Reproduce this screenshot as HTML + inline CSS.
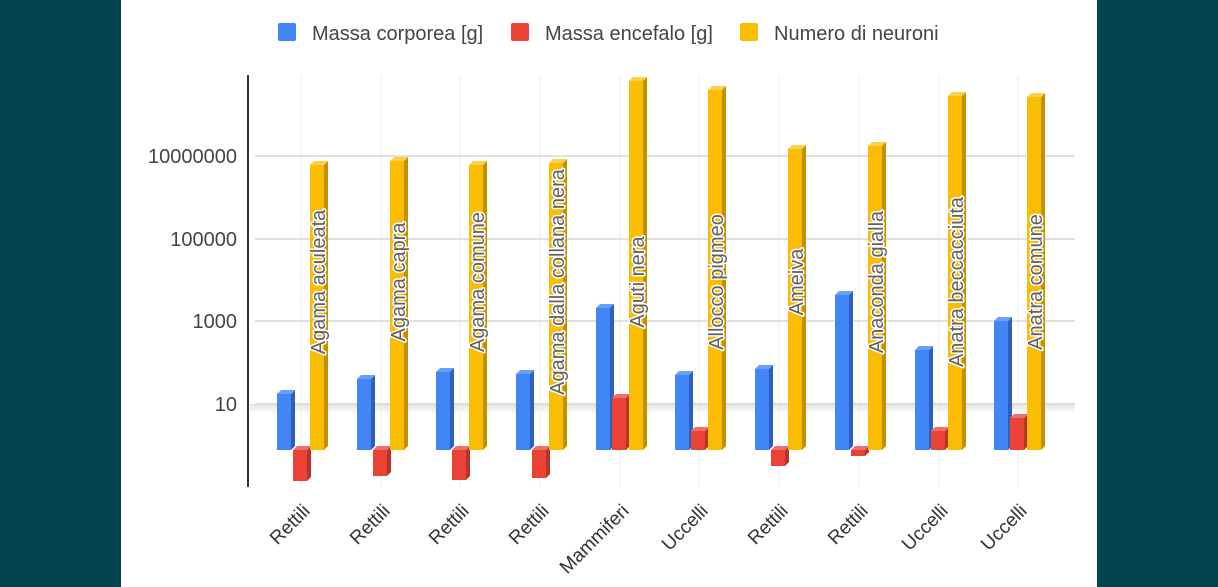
<!DOCTYPE html>
<html>
<head>
<meta charset="utf-8">
<style>
html,body{margin:0;padding:0;background:#03444f;}
body{width:1218px;height:587px;overflow:hidden;}
svg{display:block;}
text{font-family:"Liberation Sans",Arial,sans-serif;}
</style>
</head>
<body>
<svg width="1218" height="587" viewBox="0 0 1218 587" xmlns="http://www.w3.org/2000/svg">
<rect x="0" y="0" width="1218" height="587" fill="#03444f"/>
<rect x="121" y="0" width="976" height="587" fill="#ffffff"/>

<!-- legend -->
<rect x="278" y="23" width="18" height="18" rx="2" fill="#4285f4"/>
<text x="312" y="40" font-size="20" fill="#444">Massa corporea [g]</text>
<rect x="511" y="23" width="18" height="18" rx="2" fill="#ea4335"/>
<text x="545" y="40" font-size="20" fill="#444">Massa encefalo [g]</text>
<rect x="740" y="23" width="18" height="18" rx="2" fill="#fbbc04"/>
<text x="774" y="40" font-size="20" fill="#444">Numero di neuroni</text>

<!-- vertical gridlines -->
<g stroke="#ededed" stroke-width="1">
<line x1="301" y1="75" x2="301" y2="486"/>
<line x1="381" y1="75" x2="381" y2="486"/>
<line x1="460" y1="75" x2="460" y2="486"/>
<line x1="540" y1="75" x2="540" y2="486"/>
<line x1="620" y1="75" x2="620" y2="486"/>
<line x1="699" y1="75" x2="699" y2="486"/>
<line x1="779" y1="75" x2="779" y2="486"/>
<line x1="859" y1="75" x2="859" y2="486"/>
<line x1="939" y1="75" x2="939" y2="486"/>
<line x1="1018" y1="75" x2="1018" y2="486"/>
</g>

<!-- floor band -->
<defs>
<linearGradient id="fl" x1="0" y1="0" x2="0" y2="1">
<stop offset="0" stop-color="#e4e4e4"/>
<stop offset="1" stop-color="#f8f8f8"/>
</linearGradient>
</defs>
<rect x="250" y="404" width="825" height="8" fill="url(#fl)"/>

<!-- horizontal gridlines -->
<g stroke="#d6d6d6" stroke-width="1.5">
<line x1="255" y1="156" x2="1075" y2="156"/>
<line x1="255" y1="239" x2="1075" y2="239"/>
<line x1="255" y1="321" x2="1075" y2="321"/>
<line x1="255" y1="404" x2="1075" y2="404"/>
</g>

<!-- y axis -->
<line x1="248" y1="75" x2="248" y2="487" stroke="#333" stroke-width="2"/>
<g font-size="20" fill="#444" text-anchor="end">
<text x="237" y="163">10000000</text>
<text x="237" y="246">100000</text>
<text x="237" y="328">1000</text>
<text x="237" y="411">10</text>
</g>

<!-- bars -->
<g>
<!-- G1 -->
<rect x="277" y="394" width="14" height="56" fill="#4285f4"/>
<polygon points="291,394 295,390 295,446 291,450" fill="#2d5fbf"/>
<polygon points="277,394 281,390 295,390 291,394" fill="#6a9ff7"/>
<rect x="293" y="450" width="14" height="31" fill="#ea4335"/>
<polygon points="307,450 311,446 311,477 307,481" fill="#b5352a"/>
<polygon points="293,450 297,446 311,446 307,450" fill="#f07066"/>
<rect x="310" y="165" width="14" height="285" fill="#fbbc04"/>
<polygon points="324,165 328,161 328,446 324,450" fill="#c29100"/>
<polygon points="310,165 314,161 328,161 324,165" fill="#fdd04a"/>
<!-- G2 -->
<rect x="357" y="379" width="14" height="71" fill="#4285f4"/>
<polygon points="371,379 375,375 375,446 371,450" fill="#2d5fbf"/>
<polygon points="357,379 361,375 375,375 371,379" fill="#6a9ff7"/>
<rect x="373" y="450" width="14" height="26" fill="#ea4335"/>
<polygon points="387,450 391,446 391,472 387,476" fill="#b5352a"/>
<polygon points="373,450 377,446 391,446 387,450" fill="#f07066"/>
<rect x="390" y="161" width="14" height="289" fill="#fbbc04"/>
<polygon points="404,161 408,157 408,446 404,450" fill="#c29100"/>
<polygon points="390,161 394,157 408,157 404,161" fill="#fdd04a"/>
<!-- G3 -->
<rect x="436" y="372" width="14" height="78" fill="#4285f4"/>
<polygon points="450,372 454,368 454,446 450,450" fill="#2d5fbf"/>
<polygon points="436,372 440,368 454,368 450,372" fill="#6a9ff7"/>
<rect x="452" y="450" width="14" height="30" fill="#ea4335"/>
<polygon points="466,450 470,446 470,476 466,480" fill="#b5352a"/>
<polygon points="452,450 456,446 470,446 466,450" fill="#f07066"/>
<rect x="469" y="165" width="14" height="285" fill="#fbbc04"/>
<polygon points="483,165 487,161 487,446 483,450" fill="#c29100"/>
<polygon points="469,165 473,161 487,161 483,165" fill="#fdd04a"/>
<!-- G4 -->
<rect x="516" y="374" width="14" height="76" fill="#4285f4"/>
<polygon points="530,374 534,370 534,446 530,450" fill="#2d5fbf"/>
<polygon points="516,374 520,370 534,370 530,374" fill="#6a9ff7"/>
<rect x="532" y="450" width="14" height="28" fill="#ea4335"/>
<polygon points="546,450 550,446 550,474 546,478" fill="#b5352a"/>
<polygon points="532,450 536,446 550,446 546,450" fill="#f07066"/>
<rect x="549" y="163" width="14" height="287" fill="#fbbc04"/>
<polygon points="563,163 567,159 567,446 563,450" fill="#c29100"/>
<polygon points="549,163 553,159 567,159 563,163" fill="#fdd04a"/>
<!-- G5 -->
<rect x="596" y="308" width="14" height="142" fill="#4285f4"/>
<polygon points="610,308 614,304 614,446 610,450" fill="#2d5fbf"/>
<polygon points="596,308 600,304 614,304 610,308" fill="#6a9ff7"/>
<rect x="612" y="398" width="14" height="52" fill="#ea4335"/>
<polygon points="626,398 630,394 630,446 626,450" fill="#b5352a"/>
<polygon points="612,398 616,394 630,394 626,398" fill="#f07066"/>
<rect x="629" y="81" width="14" height="369" fill="#fbbc04"/>
<polygon points="643,81 647,77 647,446 643,450" fill="#c29100"/>
<polygon points="629,81 633,77 647,77 643,81" fill="#fdd04a"/>
<!-- G6 -->
<rect x="675" y="375" width="14" height="75" fill="#4285f4"/>
<polygon points="689,375 693,371 693,446 689,450" fill="#2d5fbf"/>
<polygon points="675,375 679,371 693,371 689,375" fill="#6a9ff7"/>
<rect x="691" y="431" width="14" height="19" fill="#ea4335"/>
<polygon points="705,431 709,427 709,446 705,450" fill="#b5352a"/>
<polygon points="691,431 695,427 709,427 705,431" fill="#f07066"/>
<rect x="708" y="90" width="14" height="360" fill="#fbbc04"/>
<polygon points="722,90 726,86 726,446 722,450" fill="#c29100"/>
<polygon points="708,90 712,86 726,86 722,90" fill="#fdd04a"/>
<!-- G7 -->
<rect x="755" y="369" width="14" height="81" fill="#4285f4"/>
<polygon points="769,369 773,365 773,446 769,450" fill="#2d5fbf"/>
<polygon points="755,369 759,365 773,365 769,369" fill="#6a9ff7"/>
<rect x="771" y="450" width="14" height="16" fill="#ea4335"/>
<polygon points="785,450 789,446 789,462 785,466" fill="#b5352a"/>
<polygon points="771,450 775,446 789,446 785,450" fill="#f07066"/>
<rect x="788" y="149" width="14" height="301" fill="#fbbc04"/>
<polygon points="802,149 806,145 806,446 802,450" fill="#c29100"/>
<polygon points="788,149 792,145 806,145 802,149" fill="#fdd04a"/>
<!-- G8 -->
<rect x="835" y="295" width="14" height="155" fill="#4285f4"/>
<polygon points="849,295 853,291 853,446 849,450" fill="#2d5fbf"/>
<polygon points="835,295 839,291 853,291 849,295" fill="#6a9ff7"/>
<rect x="851" y="450" width="14" height="6" fill="#ea4335"/>
<polygon points="865,450 869,446 869,452 865,456" fill="#b5352a"/>
<polygon points="851,450 855,446 869,446 865,450" fill="#f07066"/>
<rect x="868" y="146" width="14" height="304" fill="#fbbc04"/>
<polygon points="882,146 886,142 886,446 882,450" fill="#c29100"/>
<polygon points="868,146 872,142 886,142 882,146" fill="#fdd04a"/>
<!-- G9 -->
<rect x="915" y="350" width="14" height="100" fill="#4285f4"/>
<polygon points="929,350 933,346 933,446 929,450" fill="#2d5fbf"/>
<polygon points="915,350 919,346 933,346 929,350" fill="#6a9ff7"/>
<rect x="931" y="431" width="14" height="19" fill="#ea4335"/>
<polygon points="945,431 949,427 949,446 945,450" fill="#b5352a"/>
<polygon points="931,431 935,427 949,427 945,431" fill="#f07066"/>
<rect x="948" y="96" width="14" height="354" fill="#fbbc04"/>
<polygon points="962,96 966,92 966,446 962,450" fill="#c29100"/>
<polygon points="948,96 952,92 966,92 962,96" fill="#fdd04a"/>
<!-- G10 -->
<rect x="994" y="321" width="14" height="129" fill="#4285f4"/>
<polygon points="1008,321 1012,317 1012,446 1008,450" fill="#2d5fbf"/>
<polygon points="994,321 998,317 1012,317 1008,321" fill="#6a9ff7"/>
<rect x="1010" y="418" width="14" height="32" fill="#ea4335"/>
<polygon points="1024,418 1028,414 1028,446 1024,450" fill="#b5352a"/>
<polygon points="1010,418 1014,414 1028,414 1024,418" fill="#f07066"/>
<rect x="1027" y="97" width="14" height="353" fill="#fbbc04"/>
<polygon points="1041,97 1045,93 1045,446 1041,450" fill="#c29100"/>
<polygon points="1027,97 1031,93 1045,93 1041,97" fill="#fdd04a"/>
</g>

<!-- data labels -->
<g font-size="20" fill="#606060" stroke="#ffffff" stroke-width="3" paint-order="stroke" stroke-linejoin="round" text-anchor="middle">
<text transform="translate(325,282) rotate(-90)">Agama aculeata</text>
<text transform="translate(405,282) rotate(-90)">Agama capra</text>
<text transform="translate(484,282) rotate(-90)">Agama comune</text>
<text transform="translate(564,282) rotate(-90)">Agama dalla collana nera</text>
<text transform="translate(644,282) rotate(-90)">Aguti nera</text>
<text transform="translate(723,282) rotate(-90)">Allocco pigmeo</text>
<text transform="translate(803,282) rotate(-90)">Ameiva</text>
<text transform="translate(883,282) rotate(-90)">Anaconda gialla</text>
<text transform="translate(963,282) rotate(-90)">Anatra beccacciuta</text>
<text transform="translate(1042,282) rotate(-90)">Anatra comune</text>
</g>

<!-- x labels -->
<g font-size="19" fill="#333" text-anchor="end">
<text transform="translate(311,512) rotate(-45)">Rettili</text>
<text transform="translate(391,512) rotate(-45)">Rettili</text>
<text transform="translate(470,512) rotate(-45)">Rettili</text>
<text transform="translate(550,512) rotate(-45)">Rettili</text>
<text transform="translate(630,512) rotate(-45)">Mammiferi</text>
<text transform="translate(709,512) rotate(-45)">Uccelli</text>
<text transform="translate(789,512) rotate(-45)">Rettili</text>
<text transform="translate(869,512) rotate(-45)">Rettili</text>
<text transform="translate(949,512) rotate(-45)">Uccelli</text>
<text transform="translate(1028,512) rotate(-45)">Uccelli</text>
</g>
</svg>
</body>
</html>
